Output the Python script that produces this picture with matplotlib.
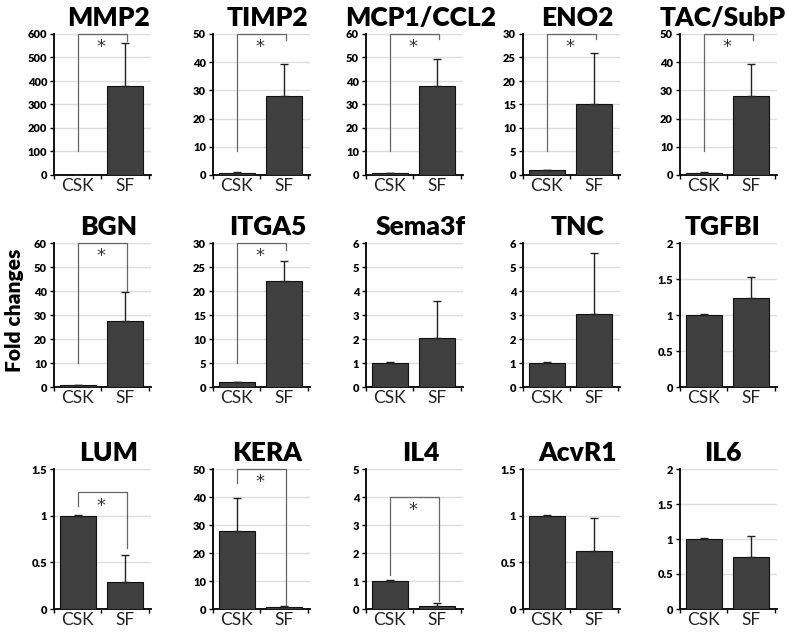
import numpy as np
import matplotlib
matplotlib.use("Agg")
import matplotlib.pyplot as plt

plt.rcParams["font.family"] = ["Lato", "DejaVu Sans"]

# Datos
genes = ["MMP2", "TIMP2", "MCP1/CCL2", "ENO2", "TAC/SubP",
         "BGN", "ITGA5", "Sema3f", "TNC", "TGFBI",
         "LUM", "KERA", "IL4", "AcvR1", "IL6"]
csk_mean = [1, 0.8, 0.8, 1, 0.8,
            0.8, 1, 1, 1, 1,
            1, 28, 1, 1, 1]
csk_err = [0.5, 0.2, 0.2, 0.1, 0.2,
           0.2, 0.1, 0.03, 0.03, 0.01,
           0.01, 11.5, 0.02, 0.01, 0.01]
sf_mean = [380, 28, 38, 15, 28,
           27.5, 22, 2.05, 3.05, 1.24,
           0.29, 0.8, 0.12, 0.62, 0.74]
sf_err = [182, 11.5, 11.5, 11, 11.5,
          12, 4.2, 1.55, 2.55, 0.29,
          0.29, 0.2, 0.08, 0.36, 0.30]
y_max = [600, 50, 60, 30, 50,
         60, 30, 6, 6, 2,
         1.5, 50, 5, 1.5, 2]
y_step = [100, 10, 10, 5, 10,
          10, 5, 1, 1, 0.5,
          0.5, 10, 1, 0.5, 0.5]
# corchetes de significancia: (inicio izq, tope, fin der)
brackets = {
    "MMP2": (100, 600, 570),
    "TIMP2": (8.5, 50, 48),
    "MCP1/CCL2": (10, 60, 58),
    "ENO2": (5, 30, 29),
    "TAC/SubP": (8.5, 50, 48),
    "BGN": (10, 60, 40),
    "ITGA5": (5, 30, 28.5),
    "LUM": (1.1, 1.25, 0.65),
    "KERA": (45, 50, 1.5),
    "IL4": (1.2, 4.0, 0.3),
}
groups = ["CSK", "SF"]

W, H = 787, 632
fig = plt.figure(figsize=(W / 100, H / 100), dpi=100)

lefts = [54, 213, 366, 523, 680]
tops = [34, 243, 469]
bottoms = [175, 387, 609]
aw = 97

for i, g in enumerate(genes):
    r, c = divmod(i, 5)
    ax = fig.add_axes([lefts[c] / W, 1 - bottoms[r] / H, aw / W,
                       (bottoms[r] - tops[r]) / H])
    x = np.array([0.5, 1.5])
    ax.bar(x, [csk_mean[i], sf_mean[i]], width=0.76, color="#3f3f3f",
           edgecolor="#111111", linewidth=0.8, zorder=3)
    ax.errorbar(x, [csk_mean[i], sf_mean[i]],
                yerr=[[0, 0], [csk_err[i], sf_err[i]]],
                fmt="none", ecolor="#222222", elinewidth=1, capsize=3,
                capthick=1, zorder=4)
    ax.set_xlim(0, 2.05)
    ax.set_ylim(0, y_max[i])
    ax.set_yticks(np.arange(0, y_max[i] + y_step[i] / 2, y_step[i]))
    ax.yaxis.set_major_formatter(matplotlib.ticker.FuncFormatter(
        lambda v, p: f"{v:g}"))
    ax.grid(axis="y", color="#dddddd", linewidth=1, zorder=0)
    ax.set_xticks([0, 1, 2])
    ax.set_xticklabels([])
    ax.set_xticks(x, minor=True)
    ax.set_xticklabels(groups, minor=True, fontsize=12.5, color="#222222")
    ax.tick_params(axis="x", which="minor", length=0, pad=2)
    ax.tick_params(axis="x", which="major", length=3, width=1, direction="out")
    ax.tick_params(axis="y", length=3, width=1, labelsize=8, pad=2)
    for lab in ax.get_yticklabels():
        lab.set_fontweight("heavy")
    for s in ["top", "right"]:
        ax.spines[s].set_visible(False)
    ax.spines["left"].set_linewidth(1.3)
    ax.spines["bottom"].set_linewidth(1.3)
    ax.spines["bottom"].set_bounds(0, 2.05)
    tx = 0.44 if c == 4 else 0.56
    ax.set_title(g, fontsize=19, fontweight="heavy", pad=6, x=tx)

    if g in brackets:
        y0, yt, y1 = brackets[g]
        ax.plot([0.5, 0.5, 1.55, 1.55], [y0, yt, yt, y1], color="#666666",
                linewidth=0.9, clip_on=False, zorder=5)
        ax.text(1.0, yt - 0.03 * y_max[i], "*", ha="center", va="top",
                fontsize=13, color="#333333", zorder=6,
                family="DejaVu Sans")

fig.text(15 / W, 1 - 310 / H, "Fold changes", rotation=90, ha="center",
         va="center", fontsize=15, fontweight="heavy")

fig.savefig("out.png", dpi=100)
